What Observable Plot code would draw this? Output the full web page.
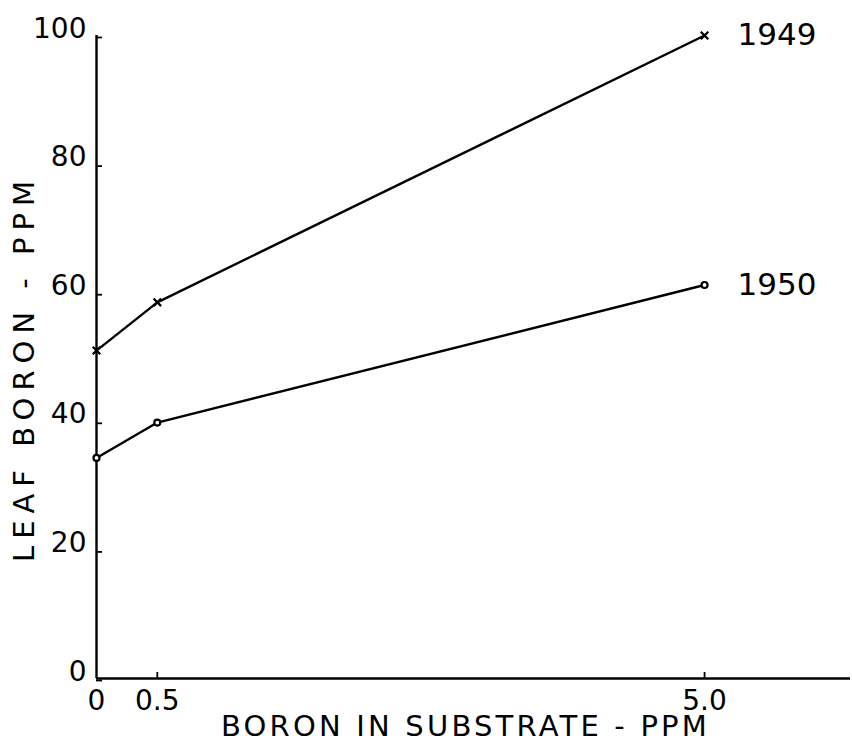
<!DOCTYPE html>
<html><head><meta charset="utf-8">
<script src="https://cdn.jsdelivr.net/npm/d3@7"></script>
<script src="https://cdn.jsdelivr.net/npm/@observablehq/plot@0.6"></script>
<style>
html,body{margin:0;padding:0;background:#fff;}
#chart svg{font-family:"DejaVu Sans",sans-serif;}
</style></head><body><div id="chart"></div>
<script>
// Data
const substrate = [0, 0.5, 5.0];            // boron in substrate, ppm
const leaf1949 = [51, 58.5, 100];           // leaf boron, ppm (1949)
const leaf1950 = [34.3, 39.8, 61.2];        // leaf boron, ppm (1950)
const seriesNames = ["1949", "1950"];
const yTicks = [0, 20, 40, 60, 80, 100];
const yTickLabels = ["0", "20", "40", "60", "80", "100"];
const xTicks = [0, 0.5, 5.0];
const xTickLabels = ["0", "0.5", "5.0"];
const xMax = 6.2;
const xTitle = "BORON IN SUBSTRATE - PPM";
const yTitle = "LEAF BORON - PPM";

const s1949 = substrate.map((x, i) => ({series: seriesNames[0], x, y: leaf1949[i]}));
const s1950 = substrate.map((x, i) => ({series: seriesNames[1], x, y: leaf1950[i]}));
const ends = [s1949[s1949.length - 1], s1950[s1950.length - 1]];

const chart = Plot.plot({
  width: 852,
  height: 742,
  marginLeft: 96,
  marginTop: 35,
  marginBottom: 64,
  marginRight: 2,
  x: {domain: [0, xMax]},
  y: {domain: [0, 100]},
  style: {fontFamily: "DejaVu Sans, sans-serif", color: "#000", background: "#fff"},
  marks: [
    Plot.ruleX([0], {y1: 0, y2: 100, stroke: "#000", strokeWidth: 2.4}),
    Plot.ruleY([0], {x1: 0, x2: xMax, stroke: "#000", strokeWidth: 2.4}),
    Plot.axisY({ticks: yTicks, tickSize: -6, tickPadding: 16, strokeWidth: 1.8,
      tickFormat: (d) => yTickLabels[yTicks.indexOf(d)],
      fontSize: 28, lineAnchor: "bottom", dy: 2, label: null}),
    Plot.axisX({ticks: xTicks.slice(1), tickSize: -6, strokeWidth: 1.8, text: null, label: null}),
    Plot.axisX({ticks: xTicks, tickSize: 0, tickPadding: 12,
      tickFormat: (d) => xTickLabels[xTicks.indexOf(d)], fontSize: 28, label: null}),
    Plot.line(s1949, {x: "x", y: "y", stroke: "#000", strokeWidth: 2.4}),
    Plot.line(s1950, {x: "x", y: "y", stroke: "#000", strokeWidth: 2.4}),
    Plot.dot(s1949, {x: "x", y: "y", symbol: "times", r: 3.5, stroke: "#000", strokeWidth: 2.2}),
    Plot.dot(s1950, {x: "x", y: "y", r: 3, stroke: "#000", fill: "#fff", strokeWidth: 2.2}),
    Plot.text(ends, {x: "x", y: "y", text: "series", textAnchor: "start", dx: 33, fontSize: 31}),
    Plot.text([xTitle], {text: (d) => d, frameAnchor: "bottom", textAnchor: "middle", lineAnchor: "bottom", dy: 57, dx: -8, fontSize: 29}),
    Plot.text([yTitle], {text: (d) => d, frameAnchor: "left", textAnchor: "middle", rotate: -90, dx: -72, dy: 11, fontSize: 29})
  ]
});
document.getElementById("chart").appendChild(chart);
d3.select(chart).selectAll("text").filter(function() { return this.textContent === xTitle; })
  .style("letter-spacing", "3.2px");
d3.select(chart).selectAll("text").filter(function() { return this.textContent === yTitle; })
  .style("letter-spacing", "7px");
</script></body></html>
